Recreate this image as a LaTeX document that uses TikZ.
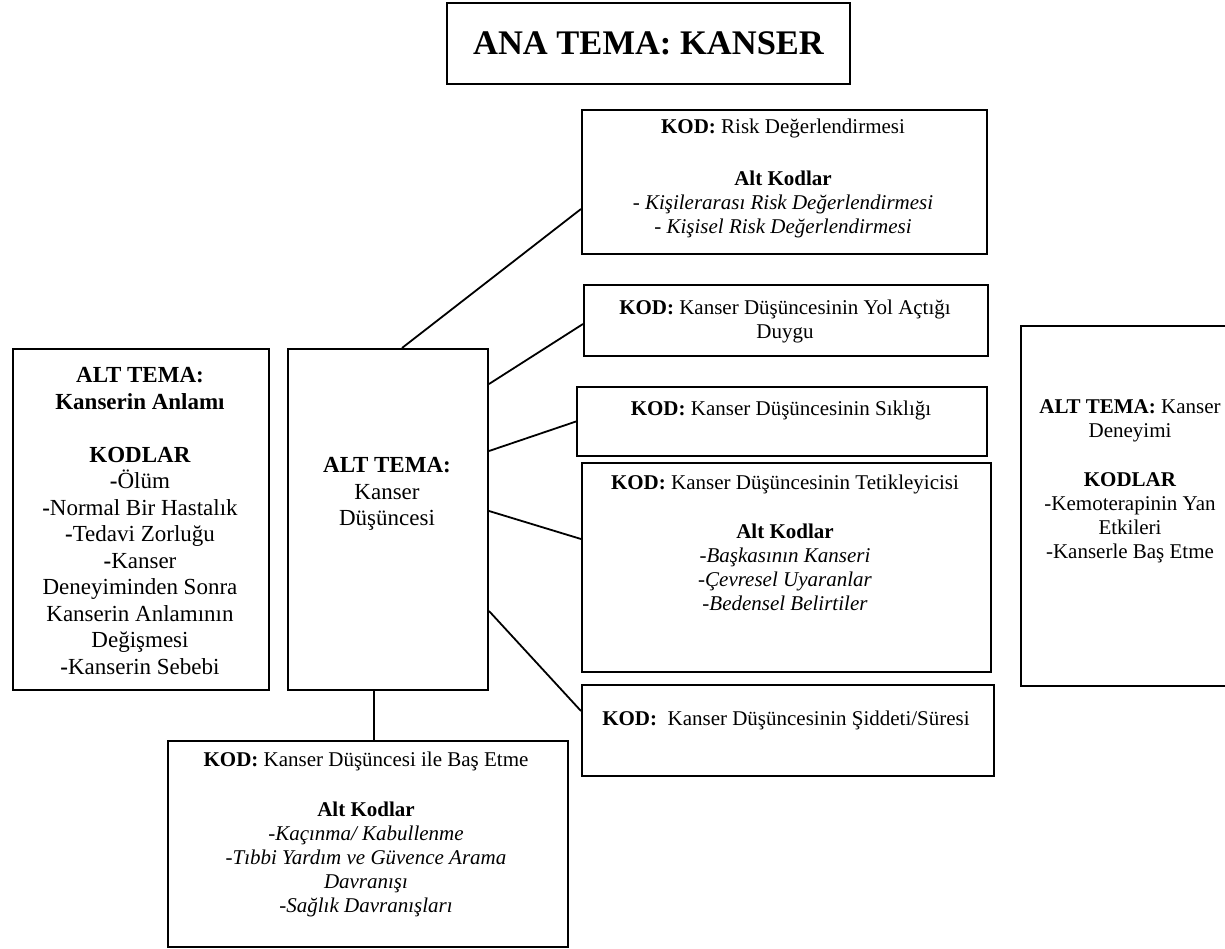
\documentclass[tikz,border=0pt]{standalone}
\usepackage{fontspec}
\setmainfont{Liberation Serif}
\begin{document}
\begin{tikzpicture}[x=1pt,y=-1pt,
  box/.style={draw, line width=2pt, rectangle, inner sep=0pt, anchor=north west},
  body/.style={align=center, font=\fontsize{21}{24}\selectfont, inner sep=0pt},
  big/.style={align=center, font=\fontsize{23}{26.5}\selectfont, inner sep=0pt},
  link/.style={line width=1.8pt}]
\useasboundingbox (0,0) rectangle (1225,949);

% frames
\node[box, minimum width=403pt, minimum height=81pt]  (title) at (446,2) {};
\node[box, minimum width=256pt, minimum height=341pt] (anlam) at (12,348) {};
\node[box, minimum width=200pt, minimum height=341pt] (dus)   at (287,348) {};
\node[box, minimum width=405pt, minimum height=144pt] (risk)  at (581,109) {};
\node[box, minimum width=404pt, minimum height=71pt]  (duygu) at (583,284) {};
\node[box, minimum width=410pt, minimum height=69pt]  (sik)   at (576,386) {};
\node[box, minimum width=409pt, minimum height=209pt] (tetik) at (581,462) {};
\node[box, minimum width=412pt, minimum height=91pt]  (sid)   at (581,684) {};
\node[box, minimum width=220pt, minimum height=360pt] (deney) at (1020,325) {};
\node[box, minimum width=400pt, minimum height=206pt] (bas)   at (167,740) {};

% texts
\node[font=\fontsize{34.5}{40}\selectfont\bfseries, inner sep=0pt] (title-t) at (title.center) {ANA TEMA: KANSER};

\node[big] (anlam-t) at (140,521) {\textbf{ALT TEMA:}\\ \textbf{Kanserin Anlamı}\\[26.5pt]
  \textbf{KODLAR}\\ \textbf{-}Ölüm\\ \textbf{-}Normal Bir Hastalık\\ \textbf{-}Tedavi Zorluğu\\
  \textbf{-}Kanser\\ Deneyiminden Sonra\\ Kanserin Anlamının\\ Değişmesi\\ \textbf{-}Kanserin Sebebi};

\node[big] (dus-t) at (387,494) {\textbf{ALT TEMA:}\\ Kanser\\ Düşüncesi};

\node[body] (risk-t) at (783,178) {\textbf{KOD:} Risk Değerlendirmesi\\[28pt]
  \textbf{Alt Kodlar}\\ \textit{- Kişilerarası Risk Değerlendirmesi}\\ \textit{- Kişisel Risk Değerlendirmesi}};

\node[body] (duygu-t) at (785,321) {\textbf{KOD:} Kanser Düşüncesinin Yol Açtığı\\ Duygu};

\node[body] (sik-t) at (781,410) {\textbf{KOD:} Kanser Düşüncesinin Sıklığı};

\node[body] (tetik-t) at (785,543) {\textbf{KOD:} Kanser Düşüncesinin Tetikleyicisi\\[25pt]
  \textbf{Alt Kodlar}\\ \textit{-Başkasının Kanseri}\\ \textit{-Çevresel Uyaranlar}\\ \textit{-Bedensel Belirtiler}};

\node[body] (sid-t) at (786,720) {\textbf{KOD:}\ \ Kanser Düşüncesinin Şiddeti/Süresi};

\node[body] (deney-t) at (1130,481) {\textbf{ALT TEMA:} Kanser\\ Deneyimi\\[25pt]
  \textbf{KODLAR}\\ -Kemoterapinin Yan\\ Etkileri\\ -Kanserle Baş Etme};

\node[body] (bas-t) at (366,834) {\textbf{KOD:} Kanser Düşüncesi ile Baş Etme\\[26pt]
  \textbf{Alt Kodlar}\\ \textit{-Kaçınma/ Kabullenme}\\ \textit{-Tıbbi Yardım ve Güvence Arama}\\
  \textit{Davranışı}\\ \textit{-Sağlık Davranışları}};

% connectors
\draw[link] ([xshift=115pt]dus.north west) -- ([yshift=-27pt]risk.west);
\draw[link] ([yshift=135.5pt]dus.east) -- ([yshift=-3.5pt]duygu.west);
\draw[link] ([yshift=68.5pt]dus.east) -- (sik.west);
\draw[link] ([yshift=8.5pt]dus.east) -- ([yshift=28.5pt]tetik.west);
\draw[link] ([yshift=-91.5pt]dus.east) -- ([yshift=19.5pt]sid.west);
\draw[link] ([xshift=-14pt]dus.south) -- ([xshift=-14pt]dus.south |- bas.north);
\end{tikzpicture}
\end{document}
